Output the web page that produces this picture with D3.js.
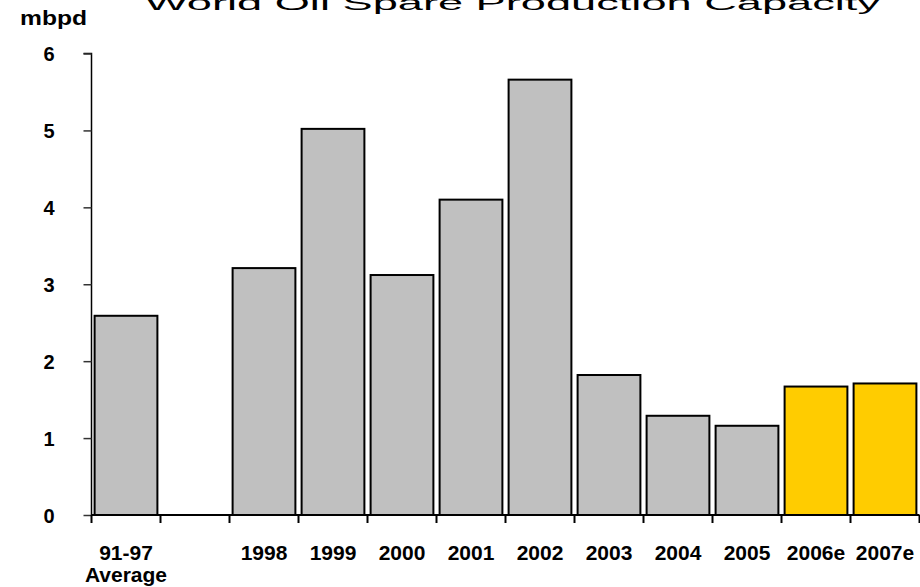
<!DOCTYPE html>
<html>
<head>
<meta charset="utf-8">
<script src="https://cdn.jsdelivr.net/npm/d3@7"></script>
<style>
  html, body { margin: 0; padding: 0; background: #fff; }
  svg { display: block; font-family: Arial, "Liberation Sans", Helvetica, sans-serif; }
</style>
</head>
<body>
<svg id="chart" width="920" height="587"></svg>
<script>
// ---- data ----
const categories = ["91-97|Average", "", "1998", "1999", "2000", "2001", "2002", "2003", "2004", "2005", "2006e", "2007e"];
const values = [2.59, null, 3.21, 5.02, 3.12, 4.10, 5.66, 1.82, 1.29, 1.16, 1.67, 1.71];
const isEstimate = [false, false, false, false, false, false, false, false, false, false, true, true];
const yTicks = [0, 1, 2, 3, 4, 5, 6];
const titleText = "World Oil Spare Production Capacity";
const unitLabel = "mbpd";

(function () {
const svg = d3.select("#chart");
const mLeft = 91.5, mRight = 919.5, mBottom = 515, mTop = 53.5;

const x = d3.scaleBand().domain(categories).range([mLeft, mRight])
  .paddingInner(0.09).paddingOuter(0.045);
const y = d3.scaleLinear().domain([0, 6]).range([mBottom, mTop]);

// bars
const data = categories.map((c, i) => ({ c, v: values[i], e: isEstimate[i] })).filter(d => d.v != null);
svg.append("g").selectAll("rect").data(data).join("rect")
  .attr("x", d => x(d.c))
  .attr("y", d => y(d.v))
  .attr("width", x.bandwidth())
  .attr("height", d => y(0) - y(d.v))
  .attr("fill", d => d.e ? "#FFCC00" : "#C0C0C0")
  .attr("stroke", "#000")
  .attr("stroke-width", 2);

// y axis
const yAxis = d3.axisLeft(y).tickValues(yTicks).tickSize(8).tickFormat(d3.format("d"));
const gy = svg.append("g").attr("transform", `translate(${mLeft},0)`).call(yAxis);
gy.select(".domain").attr("stroke", "#000").attr("stroke-width", 1.5).attr("d", `M-8,${mTop}H0V${mBottom}`);
gy.selectAll(".tick line").attr("stroke", "#333").attr("stroke-width", 1.5);
gy.selectAll(".tick text").attr("x", -37).attr("dy", "0.36em")
  .attr("font-size", 20).attr("font-weight", "bold").attr("fill", "#000")
  .attr("font-family", "Arial, 'Liberation Sans', sans-serif");

// x axis line + boundary ticks
const step = x.step();
const boundaries = d3.range(categories.length + 1).map(i => mLeft + i * step);
const gx = svg.append("g");
gx.append("line").attr("x1", mLeft).attr("x2", mRight).attr("y1", mBottom).attr("y2", mBottom)
  .attr("stroke", "#000").attr("stroke-width", 2);
gx.selectAll("line.tk").data(boundaries).join("line").attr("class", "tk")
  .attr("x1", d => d).attr("x2", d => d).attr("y1", mBottom).attr("y2", mBottom + 8)
  .attr("stroke", "#000").attr("stroke-width", 2);

// x labels
const labG = svg.append("g").attr("font-size", 21).attr("font-weight", "bold").attr("text-anchor", "middle");
categories.forEach(c => {
  if (!c) return;
  const parts = c.split("|");
  const cx = x(c) + x.bandwidth() / 2;
  const t = labG.append("text").attr("x", cx).attr("y", 560);
  parts.forEach((p, i) => {
    t.append("tspan").attr("x", cx).attr("dy", i === 0 ? 0 : 22).text(p);
  });
});

// unit label
svg.append("text").attr("x", 20).attr("y", 25)
  .attr("font-size", 21).attr("font-weight", "bold")
  .attr("textLength", 67).attr("lengthAdjust", "spacingAndGlyphs")
  .text(unitLabel);

// title (partly above the top edge, as in the source image)
svg.append("g").attr("transform", "translate(145,10) scale(1,0.55)")
  .append("text").attr("x", 0).attr("y", 0)
  .attr("font-size", 38)
  .attr("textLength", 735).attr("lengthAdjust", "spacingAndGlyphs")
  .text(titleText);
})();
</script>
</body>
</html>
